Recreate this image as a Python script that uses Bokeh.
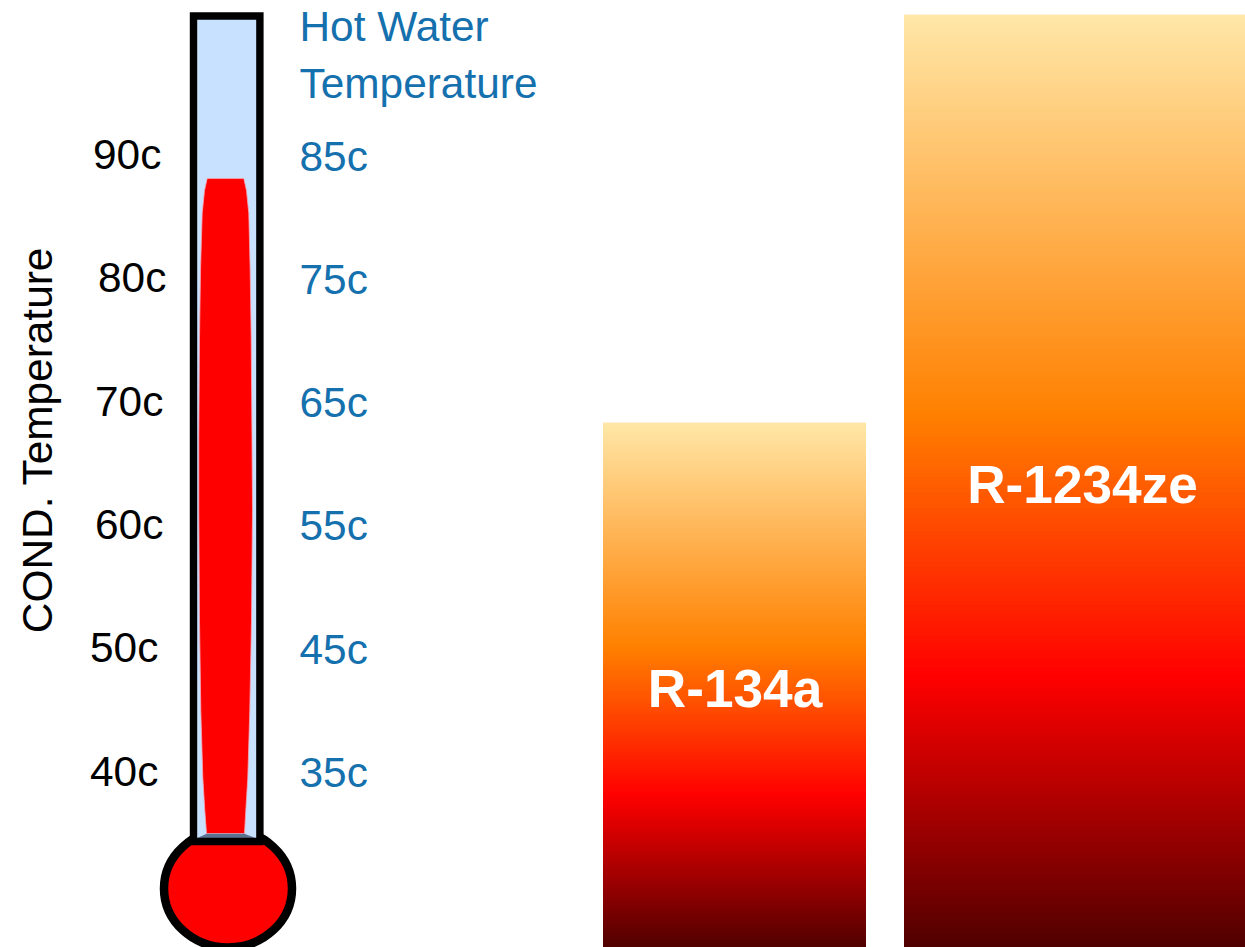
import numpy as np
from bokeh.plotting import figure
from bokeh.models import Range1d
from bokeh.core.properties import value
from bokeh.embed import file_html
from bokeh.resources import INLINE

# ---- data ----
cond_temps = [90, 80, 70, 60, 50, 40]
cond_labels = ["90c", "80c", "70c", "60c", "50c", "40c"]
hot_temps = [85, 75, 65, 55, 45, 35]
hot_labels = ["85c", "75c", "65c", "55c", "45c", "35c"]
refrigerants = ["R-134a", "R-1234ze"]
bar_tops = [68.26, 101.35]         # on the condensing-temperature scale
mercury_top = 88.05

# ---- layout (reference pixels) ----
W, H = 1245, 947
PX_PER_DEG = 12.33
Y40 = 770.5
Y35_HOT = 772.0
FONT = value("Liberation Sans")
BLUE = "#1570AE"

def t_at(py):
    return 40 + (Y40 - py) / PX_PER_DEG

def hot_at(py):
    return 35 + (Y35_HOT - py) / PX_PER_DEG

p = figure(width=W, height=H, output_backend="svg", toolbar_location=None,
           x_range=Range1d(0, W), y_range=Range1d(t_at(H), t_at(0)),
           min_border=0, outline_line_color=None, background_fill_color="white",
           border_fill_color="white")
p.axis.visible = False
p.grid.visible = False
p.extra_y_ranges = {"px": Range1d(H, 0), "hot": Range1d(hot_at(H), hot_at(0))}

# ---- gradient bars ----
stops = [(0.0, (255, 231, 168)), (0.43, (255, 128, 0)), (0.71, (255, 0, 0)), (1.0, (80, 0, 0))]

def grad(f):
    for (a, ca), (b, cb) in zip(stops, stops[1:]):
        if f <= b:
            k = (f - a) / (b - a)
            return tuple(round(u + (v - u) * k) for u, v in zip(ca, cb))
    return stops[-1][1]

bar_x = [(602.5, 865.5), (903.5, 1245)]
bottom = t_at(H)
for (x0, x1), top in zip(bar_x, bar_tops):
    n = 240
    img = np.zeros((n, 1), dtype=np.uint32)
    for i in range(n):               # row 0 is drawn at the bottom
        r, g, b = grad(1 - (i + 0.5) / n)
        img[i, 0] = (255 << 24) | (b << 16) | (g << 8) | r
    p.image_rgba(image=[img], x=[x0], y=[bottom], dw=[x1 - x0], dh=[top - bottom])

# ---- thermometer ----
merc_py = [190, 213, 270, 337, 437, 510, 620, 710, 777, 810, 833]
merc_l = [206.7, 204, 201.7, 200, 199, 198.3, 198.3, 199, 200.3, 202.3, 204.3, 206]
merc_r = [243.3, 246, 248.3, 249.7, 250.7, 251.5, 252, 251, 249.3, 247.3, 245.3, 244]
merc_y = [mercury_top] + [t_at(v) for v in merc_py]

p.ellipse(x=[227.5], y=[888], width=[128], height=[118], fill_color="#FF0000", line_color="black",
          line_width=8.5, y_range_name="px")
p.quad(left=[193], right=[259.4], top=[15.5], bottom=[841], fill_color="#C8E1FF", line_color=None, y_range_name="px")
p.patch(merc_l + merc_r[::-1], merc_y + merc_y[::-1], fill_color="#FF0000", line_color="#F4A8B8", line_width=0.8)
p.patch([196, 206, 244, 256], [838, 833.3, 833.3, 838], fill_color="#5B7391", line_color=None, y_range_name="px")
p.quad(left=[193], right=[259.4], top=[15.5], bottom=[841], fill_color=None, line_color="black", line_width=7.4,
       line_join="miter", y_range_name="px")

# ---- texts ----
fs = value("42.4px")
p.text(x=[92.5, 97.5, 94.5, 94.5, 89.5, 89.5], y=cond_temps, text=cond_labels, text_font=FONT, text_font_size=fs,
       text_color="black", text_baseline="middle", text_align="left")
p.text(x=[299] * 6, y=hot_temps, text=hot_labels, text_font=FONT, text_font_size=fs,
       text_color=BLUE, text_baseline="middle", text_align="left", y_range_name="hot")
p.text(x=[299, 299], y=[26, 83], text=["Hot Water", "Temperature"], text_font=FONT, text_font_size=fs,
       text_color=BLUE, text_baseline="middle", text_align="left", y_range_name="px")
p.text(x=[37, ], y=[439.5], text=["COND. Temperature"], text_font=FONT, text_font_size=fs, angle=1.5708,
       text_color="black", text_baseline="middle", text_align="center", y_range_name="px")
p.text(x=[734.5, 1082], y=[688, 483.5], text=refrigerants, text_font=FONT, text_font_size=value("53.2px"),
       text_font_style="bold", text_color="white", text_baseline="middle", text_align="center", y_range_name="px")

open("out.html", "w").write(file_html(p, INLINE))
